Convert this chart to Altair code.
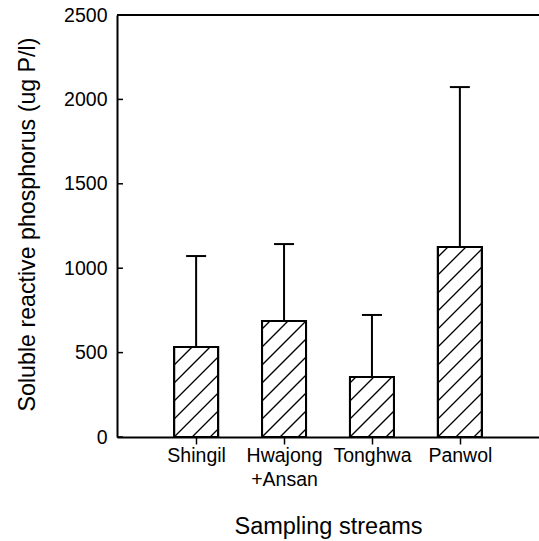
import json
import altair as alt
import pandas as pd

# ---- data ----
streams = ["Shingil", "Hwajong\n+Ansan", "Tonghwa", "Panwol"]
means = [533, 687, 355, 1126]
upper = [1072, 1143, 723, 2073]
y_ticks = [0, 500, 1000, 1500, 2000, 2500]

df = pd.DataFrame({"idx": list(range(len(streams))), "name": streams,
                   "mean": means, "upper": upper})
ticks_df = pd.DataFrame({"v": y_ticks})
top_df = pd.DataFrame({"v": [max(y_ticks)]})

label_list = [s.split("\n") if "\n" in s else s for s in streams]
label_expr = json.dumps(label_list) + "[datum.value]"

W, H = 422, 422
XMIN, XMAX = -0.9, 3.9
PXU = W / (XMAX - XMIN)          # pixels per x unit
BAR_PX = 44                      # bar width in px
HALF = BAR_PX / 2 / PXU
FONT = "Liberation Sans"

xs = alt.Scale(domain=[XMIN, XMAX], nice=False, zero=False)
ys = alt.Scale(domain=[0, 2500], nice=False)

XAXIS = alt.Axis(
    values=list(range(len(streams))), labelExpr=label_expr,
    tickSize=7, tickWidth=1.5, tickColor="black", labelPadding=2,
    labelFontSize=19.5, labelFont=FONT, labelColor="black", labelLineHeight=24,
    domainWidth=2, domainColor="black", grid=False,
    title="Sampling streams", titleFontSize=23.5, titleFont=FONT,
    titleFontWeight="normal", titleColor="black",
    titleBaseline="alphabetic", titleY=96)
YAXIS = alt.Axis(
    values=y_ticks, format="d", tickSize=0, labelPadding=10, labelFontSize=19.5,
    labelFont=FONT, labelColor="black", domainWidth=2, domainColor="black",
    grid=False, title="Soluble reactive phosphorus (ug P/l)",
    titleFontSize=23.2, titleFont=FONT, titleFontWeight="normal",
    titleColor="black", titleX=-78, titleY=209)

base = alt.Chart(df)

bars = base.transform_calculate(
    x0=f"datum.idx - {HALF}", x1=f"datum.idx + {HALF}", zero="0"
).mark_rect(fill="white", stroke="black", strokeWidth=2).encode(
    x=alt.X("x0:Q", scale=xs, axis=XAXIS), x2="x1:Q",
    y=alt.Y("zero:Q", scale=ys, axis=YAXIS), y2="mean:Q",
)

SP = 18
hatch = base.transform_calculate(k="sequence(0, 80)").transform_flatten(["k"]).transform_calculate(
    Hp=f"datum.mean * {H} / 2500",
    c=f"-{BAR_PX} + 8 + datum.k * {SP}",
).transform_calculate(
    xa="max(0, -datum.c)",
    xb=f"min({BAR_PX}, datum.Hp - datum.c)",
).transform_filter("datum.xb > datum.xa + 1").transform_calculate(
    hx=f"datum.idx - {HALF} + datum.xa / {PXU}",
    hx2=f"datum.idx - {HALF} + datum.xb / {PXU}",
    hy=f"(datum.xa + datum.c) * 2500 / {H}",
    hy2=f"(datum.xb + datum.c) * 2500 / {H}",
).mark_rule(color="black", strokeWidth=1.3).encode(
    x=alt.X("hx:Q", scale=xs, axis=XAXIS), x2="hx2:Q",
    y=alt.Y("hy:Q", scale=ys, axis=YAXIS), y2="hy2:Q",
)

outline = base.transform_calculate(
    x0=f"datum.idx - {HALF}", x1=f"datum.idx + {HALF}", zero="0"
).mark_rect(fillOpacity=0, stroke="black", strokeWidth=2).encode(
    x=alt.X("x0:Q", scale=xs, axis=XAXIS), x2="x1:Q",
    y=alt.Y("zero:Q", scale=ys, axis=YAXIS), y2="mean:Q",
)

err = base.mark_rule(color="black", strokeWidth=2).encode(
    x=alt.X("idx:Q", scale=xs, axis=XAXIS),
    y=alt.Y("mean:Q", scale=ys, axis=YAXIS), y2="upper:Q",
)

CAP = 10 / PXU
caps = base.transform_calculate(
    c0=f"datum.idx - {CAP}", c1=f"datum.idx + {CAP}"
).mark_rule(color="black", strokeWidth=2).encode(
    x=alt.X("c0:Q", scale=xs, axis=XAXIS), x2="c1:Q",
    y=alt.Y("upper:Q", scale=ys, axis=YAXIS),
)

yticks = alt.Chart(ticks_df).mark_rule(color="black", strokeWidth=1.5).encode(
    y=alt.Y("v:Q", scale=ys, axis=YAXIS), x=alt.value(0), x2=alt.value(6),
)

topline = alt.Chart(top_df).mark_rule(color="black", strokeWidth=2).encode(
    y=alt.Y("v:Q", scale=ys, axis=YAXIS), x=alt.value(0), x2=alt.value(W),
)

chart = alt.layer(bars, hatch, outline, err, caps, yticks, topline).properties(
    width=W, height=H,
    autosize=alt.AutoSizeParams(type="none"),
    padding={"left": 117, "top": 15, "right": 0, "bottom": 104},
    background="white",
).configure_view(stroke=None)

chart.save("out.html", embed_options={"renderer": "svg", "actions": False})
